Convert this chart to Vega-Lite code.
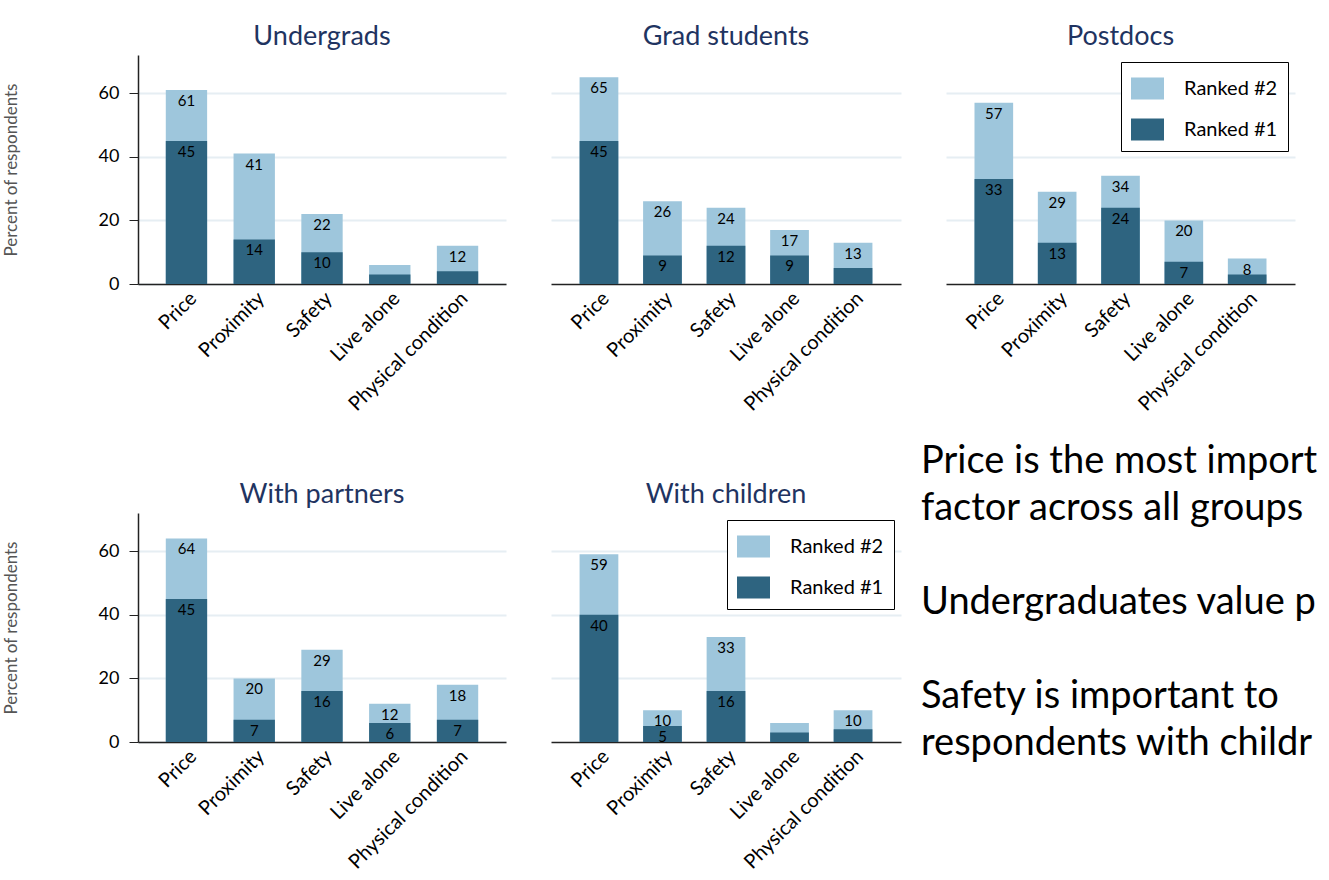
{
  "$schema": "https://vega.github.io/schema/vega-lite/v6.json",
  "background": "white",
  "padding": {"left": 2, "top": 23, "right": 0, "bottom": 0},
  "config": {
    "font": "Lato",
    "view": {"stroke": null},
    "title": {"fontSize": 27, "fontWeight": "normal", "color": "#1f3461", "baseline": "alphabetic", "offset": 4, "font": "Lato"},
    "axis": {"labelFont": "Lato", "labelColor": "black", "titleFont": "Lato"},
    "axisX": {"domainColor": "#222", "domainWidth": 1.5, "ticks": false, "labelFontSize": 20, "labelAngle": -45, "labelPadding": 4, "grid": false, "title": null},
    "axisY": {"gridColor": "#e6eef3", "gridWidth": 2, "labelFontSize": 18, "tickSize": 9, "tickColor": "#222", "domainColor": "#222", "domainWidth": 1.5, "labelPadding": 10, "titleFontSize": 17, "titlePadding": 78, "titleColor": "#555", "titleFontWeight": "normal"},
    "legend": {"orient": "top-right", "offset": 7, "strokeColor": "black", "padding": 10, "title": null, "symbolType": "M-1,-0.667L1,-0.667L1,0.667L-1,0.667Z", "symbolSize": 1089, "symbolStrokeWidth": 0, "symbolOpacity": 1, "labelFontSize": 20, "labelFont": "Lato", "labelColor": "black", "labelOffset": 20, "rowPadding": 13, "fillColor": "white"}
  },
  "datasets": {
    "bars": [
      {"group": "Undergrads", "factor": "Price", "rank": "Ranked #2", "value": 61, "label": "61"},
      {"group": "Undergrads", "factor": "Proximity", "rank": "Ranked #2", "value": 41, "label": "41"},
      {"group": "Undergrads", "factor": "Safety", "rank": "Ranked #2", "value": 22, "label": "22"},
      {"group": "Undergrads", "factor": "Live alone", "rank": "Ranked #2", "value": 6, "label": ""},
      {"group": "Undergrads", "factor": "Physical condition", "rank": "Ranked #2", "value": 12, "label": "12"},
      {"group": "Grad students", "factor": "Price", "rank": "Ranked #2", "value": 65, "label": "65"},
      {"group": "Grad students", "factor": "Proximity", "rank": "Ranked #2", "value": 26, "label": "26"},
      {"group": "Grad students", "factor": "Safety", "rank": "Ranked #2", "value": 24, "label": "24"},
      {"group": "Grad students", "factor": "Live alone", "rank": "Ranked #2", "value": 17, "label": "17"},
      {"group": "Grad students", "factor": "Physical condition", "rank": "Ranked #2", "value": 13, "label": "13"},
      {"group": "Postdocs", "factor": "Price", "rank": "Ranked #2", "value": 57, "label": "57"},
      {"group": "Postdocs", "factor": "Proximity", "rank": "Ranked #2", "value": 29, "label": "29"},
      {"group": "Postdocs", "factor": "Safety", "rank": "Ranked #2", "value": 34, "label": "34"},
      {"group": "Postdocs", "factor": "Live alone", "rank": "Ranked #2", "value": 20, "label": "20"},
      {"group": "Postdocs", "factor": "Physical condition", "rank": "Ranked #2", "value": 8, "label": "8"},
      {"group": "With partners", "factor": "Price", "rank": "Ranked #2", "value": 64, "label": "64"},
      {"group": "With partners", "factor": "Proximity", "rank": "Ranked #2", "value": 20, "label": "20"},
      {"group": "With partners", "factor": "Safety", "rank": "Ranked #2", "value": 29, "label": "29"},
      {"group": "With partners", "factor": "Live alone", "rank": "Ranked #2", "value": 12, "label": "12"},
      {"group": "With partners", "factor": "Physical condition", "rank": "Ranked #2", "value": 18, "label": "18"},
      {"group": "With children", "factor": "Price", "rank": "Ranked #2", "value": 59, "label": "59"},
      {"group": "With children", "factor": "Proximity", "rank": "Ranked #2", "value": 10, "label": "10"},
      {"group": "With children", "factor": "Safety", "rank": "Ranked #2", "value": 33, "label": "33"},
      {"group": "With children", "factor": "Live alone", "rank": "Ranked #2", "value": 6, "label": ""},
      {"group": "With children", "factor": "Physical condition", "rank": "Ranked #2", "value": 10, "label": "10"},
      {"group": "Undergrads", "factor": "Price", "rank": "Ranked #1", "value": 45, "label": "45"},
      {"group": "Undergrads", "factor": "Proximity", "rank": "Ranked #1", "value": 14, "label": "14"},
      {"group": "Undergrads", "factor": "Safety", "rank": "Ranked #1", "value": 10, "label": "10"},
      {"group": "Undergrads", "factor": "Live alone", "rank": "Ranked #1", "value": 3, "label": ""},
      {"group": "Undergrads", "factor": "Physical condition", "rank": "Ranked #1", "value": 4, "label": ""},
      {"group": "Grad students", "factor": "Price", "rank": "Ranked #1", "value": 45, "label": "45"},
      {"group": "Grad students", "factor": "Proximity", "rank": "Ranked #1", "value": 9, "label": "9"},
      {"group": "Grad students", "factor": "Safety", "rank": "Ranked #1", "value": 12, "label": "12"},
      {"group": "Grad students", "factor": "Live alone", "rank": "Ranked #1", "value": 9, "label": "9"},
      {"group": "Grad students", "factor": "Physical condition", "rank": "Ranked #1", "value": 5, "label": ""},
      {"group": "Postdocs", "factor": "Price", "rank": "Ranked #1", "value": 33, "label": "33"},
      {"group": "Postdocs", "factor": "Proximity", "rank": "Ranked #1", "value": 13, "label": "13"},
      {"group": "Postdocs", "factor": "Safety", "rank": "Ranked #1", "value": 24, "label": "24"},
      {"group": "Postdocs", "factor": "Live alone", "rank": "Ranked #1", "value": 7, "label": "7"},
      {"group": "Postdocs", "factor": "Physical condition", "rank": "Ranked #1", "value": 3, "label": ""},
      {"group": "With partners", "factor": "Price", "rank": "Ranked #1", "value": 45, "label": "45"},
      {"group": "With partners", "factor": "Proximity", "rank": "Ranked #1", "value": 7, "label": "7"},
      {"group": "With partners", "factor": "Safety", "rank": "Ranked #1", "value": 16, "label": "16"},
      {"group": "With partners", "factor": "Live alone", "rank": "Ranked #1", "value": 6, "label": "6"},
      {"group": "With partners", "factor": "Physical condition", "rank": "Ranked #1", "value": 7, "label": "7"},
      {"group": "With children", "factor": "Price", "rank": "Ranked #1", "value": 40, "label": "40"},
      {"group": "With children", "factor": "Proximity", "rank": "Ranked #1", "value": 5, "label": "5"},
      {"group": "With children", "factor": "Safety", "rank": "Ranked #1", "value": 16, "label": "16"},
      {"group": "With children", "factor": "Live alone", "rank": "Ranked #1", "value": 3, "label": ""},
      {"group": "With children", "factor": "Physical condition", "rank": "Ranked #1", "value": 4, "label": ""}
    ],
    "notes": [
      {"line": 1, "note": "Price is the most important"},
      {"line": 2, "note": "factor across all groups"},
      {"line": 4, "note": "Undergraduates value proximity"},
      {"line": 6, "note": "Safety is important to"},
      {"line": 7, "note": "respondents with children"}
    ]
  },
  "columns": 3,
  "bounds": "flush",
  "spacing": {"row": 229, "column": 45},
  "resolve": {"scale": {"x": "independent", "y": "independent", "color": "independent"}, "legend": {"color": "independent"}},
  "concat": [
    {
      "width": 368, "height": 229,
      "title": "Undergrads",
      "data": {"name": "bars"},
      "transform": [{"filter": "datum.group === 'Undergrads'"}],
      "encoding": {
        "x": {"field": "factor", "type": "nominal", "sort": ["Price", "Proximity", "Safety", "Live alone", "Physical condition"], "scale": {"paddingInner": 0.39, "paddingOuter": 0.41}, "axis": {"title": null}},
        "y": {"field": "value", "type": "quantitative", "stack": null, "scale": {"domain": [0, 72], "nice": false}, "axis": {"values": [0, 20, 40, 60], "title": "Percent of respondents"}}
      },
      "layer": [
        {"mark": {"type": "bar"}, "encoding": {"color": {"field": "rank", "type": "nominal", "scale": {"domain": ["Ranked #2", "Ranked #1"], "range": ["#9ec6dc", "#2e6480"]}, "legend": null}}},
        {"transform": [{"filter": "datum.label !== ''"}], "mark": {"type": "text", "baseline": "top", "dy": 4, "fontSize": 15, "color": "black"}, "encoding": {"text": {"field": "label"}}}
      ]
    },
    {
      "width": 350, "height": 229,
      "title": "Grad students",
      "data": {"name": "bars"},
      "transform": [{"filter": "datum.group === 'Grad students'"}],
      "encoding": {
        "x": {"field": "factor", "type": "nominal", "sort": ["Price", "Proximity", "Safety", "Live alone", "Physical condition"], "scale": {"paddingInner": 0.39, "paddingOuter": 0.45}, "axis": {"title": null}},
        "y": {"field": "value", "type": "quantitative", "stack": null, "scale": {"domain": [0, 72], "nice": false}, "axis": {"values": [20, 40, 60], "labels": false, "ticks": false, "domain": false, "title": null}}
      },
      "layer": [
        {"mark": {"type": "bar"}, "encoding": {"color": {"field": "rank", "type": "nominal", "scale": {"domain": ["Ranked #2", "Ranked #1"], "range": ["#9ec6dc", "#2e6480"]}, "legend": null}}},
        {"transform": [{"filter": "datum.label !== ''"}], "mark": {"type": "text", "baseline": "top", "dy": 4, "fontSize": 15, "color": "black"}, "encoding": {"text": {"field": "label"}}}
      ]
    },
    {
      "width": 349, "height": 229,
      "title": "Postdocs",
      "data": {"name": "bars"},
      "transform": [{"filter": "datum.group === 'Postdocs'"}],
      "encoding": {
        "x": {"field": "factor", "type": "nominal", "sort": ["Price", "Proximity", "Safety", "Live alone", "Physical condition"], "scale": {"paddingInner": 0.39, "paddingOuter": 0.45}, "axis": {"title": null}},
        "y": {"field": "value", "type": "quantitative", "stack": null, "scale": {"domain": [0, 72], "nice": false}, "axis": {"values": [20, 40, 60], "labels": false, "ticks": false, "domain": false, "title": null}}
      },
      "layer": [
        {"mark": {"type": "bar"}, "encoding": {"color": {"field": "rank", "type": "nominal", "scale": {"domain": ["Ranked #2", "Ranked #1"], "range": ["#9ec6dc", "#2e6480"]}, "legend": {"orient": "top-right"}}}},
        {"transform": [{"filter": "datum.label !== ''"}], "mark": {"type": "text", "baseline": "top", "dy": 4, "fontSize": 15, "color": "black"}, "encoding": {"text": {"field": "label"}}}
      ]
    },
    {
      "width": 368, "height": 229,
      "title": "With partners",
      "data": {"name": "bars"},
      "transform": [{"filter": "datum.group === 'With partners'"}],
      "encoding": {
        "x": {"field": "factor", "type": "nominal", "sort": ["Price", "Proximity", "Safety", "Live alone", "Physical condition"], "scale": {"paddingInner": 0.39, "paddingOuter": 0.41}, "axis": {"title": null}},
        "y": {"field": "value", "type": "quantitative", "stack": null, "scale": {"domain": [0, 72], "nice": false}, "axis": {"values": [0, 20, 40, 60], "title": "Percent of respondents"}}
      },
      "layer": [
        {"mark": {"type": "bar"}, "encoding": {"color": {"field": "rank", "type": "nominal", "scale": {"domain": ["Ranked #2", "Ranked #1"], "range": ["#9ec6dc", "#2e6480"]}, "legend": null}}},
        {"transform": [{"filter": "datum.label !== ''"}], "mark": {"type": "text", "baseline": "top", "dy": 4, "fontSize": 15, "color": "black"}, "encoding": {"text": {"field": "label"}}}
      ]
    },
    {
      "width": 350, "height": 229,
      "title": "With children",
      "data": {"name": "bars"},
      "transform": [{"filter": "datum.group === 'With children'"}],
      "encoding": {
        "x": {"field": "factor", "type": "nominal", "sort": ["Price", "Proximity", "Safety", "Live alone", "Physical condition"], "scale": {"paddingInner": 0.39, "paddingOuter": 0.45}, "axis": {"title": null}},
        "y": {"field": "value", "type": "quantitative", "stack": null, "scale": {"domain": [0, 72], "nice": false}, "axis": {"values": [20, 40, 60], "labels": false, "ticks": false, "domain": false, "title": null}}
      },
      "layer": [
        {"mark": {"type": "bar"}, "encoding": {"color": {"field": "rank", "type": "nominal", "scale": {"domain": ["Ranked #2", "Ranked #1"], "range": ["#9ec6dc", "#2e6480"]}, "legend": {"orient": "top-right"}}}},
        {"transform": [{"filter": "datum.label !== ''"}], "mark": {"type": "text", "baseline": "top", "dy": 4, "fontSize": 15, "color": "black"}, "encoding": {"text": {"field": "label"}}}
      ]
    },
    {
      "width": 349, "height": 229,
      "data": {"name": "notes"},
      "mark": {"type": "text", "align": "left", "baseline": "alphabetic", "font": "Lato", "fontSize": 38, "color": "black", "limit": 404, "ellipsis": "\u200b"},
      "encoding": {
        "x": {"datum": 0, "type": "quantitative", "scale": {"domain": [0.0716, 1.0716]}, "axis": null},
        "y": {"field": "line", "type": "quantitative", "scale": {"domain": [1.851, 6.723], "reverse": true, "nice": false, "zero": false}, "axis": null},
        "text": {"field": "note"}
      }
    }
  ]
}
